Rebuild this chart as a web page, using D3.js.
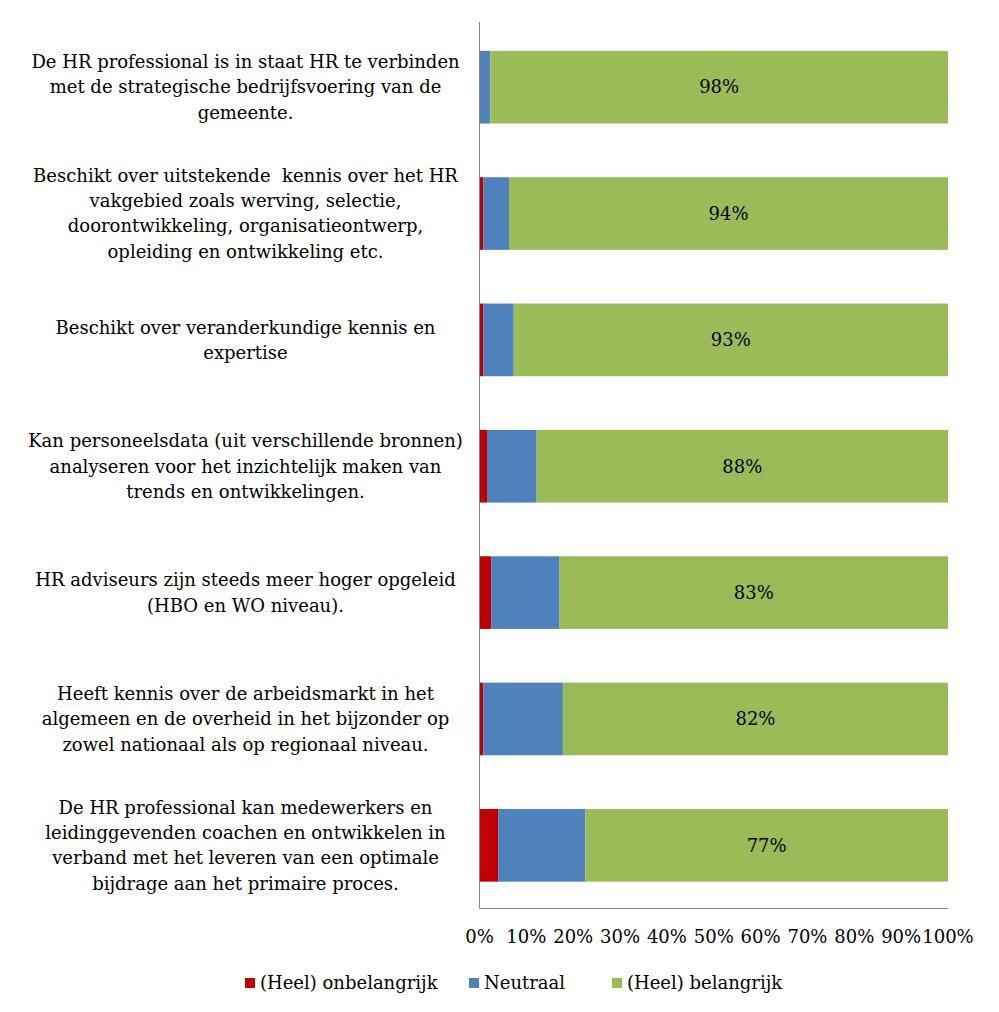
<!DOCTYPE html>
<html><head><meta charset="utf-8">
<script src="https://cdn.jsdelivr.net/npm/d3@7"></script>
<style>body{margin:0;background:#fff}svg{display:block}text{font-family:"DejaVu Serif",serif;fill:#000}</style>
</head><body><svg id="c" width="999" height="1012"></svg>
<script>
const categories = [
  "De HR professional is in staat HR te verbinden\nmet de strategische bedrijfsvoering van de\ngemeente.",
  "Beschikt over uitstekende  kennis over het HR\nvakgebied zoals werving, selectie,\ndoorontwikkeling, organisatieontwerp,\nopleiding en ontwikkeling etc.",
  "Beschikt over veranderkundige kennis en\nexpertise",
  "Kan personeelsdata (uit verschillende bronnen)\nanalyseren voor het inzichtelijk maken van\ntrends en ontwikkelingen.",
  "HR adviseurs zijn steeds meer hoger opgeleid\n(HBO en WO niveau).",
  "Heeft kennis over de arbeidsmarkt in het\nalgemeen en de overheid in het bijzonder op\nzowel nationaal als op regionaal niveau.",
  "De HR professional kan medewerkers en\nleidinggevenden coachen en ontwikkelen in\nverband met het leveren van een optimale\nbijdrage aan het primaire proces."
];
const seriesNames = ["(Heel) onbelangrijk", "Neutraal", "(Heel) belangrijk"];
const onbelangrijk = [0.0, 0.8, 0.8, 1.6, 2.5, 0.8, 4.0];
const neutraal     = [2.3, 5.5, 6.5, 10.6, 14.6, 17.0, 18.6];
const belangrijk   = [97.7, 93.7, 92.7, 87.8, 82.9, 82.2, 77.4];
const tickValues = [0,0.1,0.2,0.3,0.4,0.5,0.6,0.7,0.8,0.9,1];
const colors = ["#C00000", "#4F81BD", "#9BBB59"];

const svg = d3.select("#c");
const M = {left: 479.5, right: 948, top: 24, bottom: 908.5};
const FS = "18px";
const x = d3.scaleLinear().domain([0,1]).range([M.left, M.right]);
const y = d3.scaleBand().domain(d3.range(categories.length)).range([M.top, M.bottom]).paddingInner(0.425).paddingOuter(0.2125);

const rows = categories.map((c,i)=>{
  const vals=[onbelangrijk[i],neutraal[i],belangrijk[i]];
  const tot=d3.sum(vals);
  let acc=0;
  return vals.map((v,k)=>{const s={k, i, x0:acc/tot, x1:(acc+v)/tot, v:v/tot}; acc+=v; return s;});
});

const g = svg.append("g");
rows.forEach(r=>{
  g.selectAll(null).data(r).join("rect")
    .attr("x",d=>x(d.x0)).attr("width",d=>x(d.x1)-x(d.x0))
    .attr("y",d=>y(d.i)).attr("height",y.bandwidth())
    .attr("fill",d=>colors[d.k]);
  const gr=r[2];
  g.append("text").attr("x",(x(gr.x0)+x(gr.x1))/2).attr("y",y(gr.i)+y.bandwidth()/2)
    .attr("dy","0.35em").attr("text-anchor","middle").style("font-size",FS)
    .text(Math.round(gr.v*100)+"%");
});

// axes lines
svg.append("line").attr("x1",M.left).attr("x2",M.left).attr("y1",M.top-2).attr("y2",M.bottom).attr("stroke","#868686");
svg.append("line").attr("x1",M.left).attr("x2",M.right).attr("y1",M.bottom).attr("y2",M.bottom).attr("stroke","#868686");

// x tick labels
svg.selectAll(".tk").data(tickValues).join("text")
  .attr("x",d=>x(d)).attr("y",943).attr("text-anchor","middle").style("font-size",FS)
  .text(d=>Math.round(d*100)+"%");

// category labels
categories.forEach((c,i)=>{
  const lines=c.split("\n");
  const cy=y(i)+y.bandwidth()/2;
  const lh=25.3;
  const t=svg.append("text").attr("text-anchor","middle").style("font-size",FS).attr("xml:space","preserve").style("white-space","pre");
  lines.forEach((l,j)=>{
    t.append("tspan").attr("x",245.5).attr("y",cy+(j-(lines.length-1)/2)*lh).attr("dy","0.35em").text(l);
  });
});

// legend
const legX=[245,469,612];
seriesNames.forEach((n,k)=>{
  svg.append("rect").attr("x",legX[k]).attr("y",978).attr("width",10).attr("height",10).attr("fill",colors[k]);
  svg.append("text").attr("x",legX[k]+15).attr("y",983).attr("dy","0.35em").style("font-size",FS).text(n);
});
</script></body></html>
